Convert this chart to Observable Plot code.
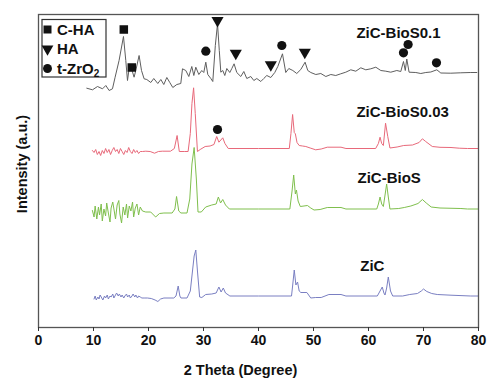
<!DOCTYPE html>
<html><head><meta charset="utf-8">
<script src="https://cdn.jsdelivr.net/npm/d3@7"></script>
<script src="https://cdn.jsdelivr.net/npm/@observablehq/plot@0.6"></script>
<style>body{margin:0;background:#fff}</style>
</head><body><div id="chart"></div>
<script>
// ---- series ----
const seriesNames = ["ZiC-BioS0.1", "ZiC-BioS0.03", "ZiC-BioS", "ZiC"];
const seriesColors = ["#5e5e5e", "#e8697a", "#7fbf4d", "#7a7fc2"];
const seriesOffsets = [255.3, 179, 118.5, 31.5];
const labelLift = [39, 36.3, 30.8, 29.8];
const labelX = [57.8, 57.8, 58, 58.5];

// ZiC-BioS0.1 (2θ, intensity)
const t_s01 = [8.78,9.82,10.73,11.64,12.24,12.84,13.45,13.93,14.65,15.45,15.87,16.18,16.47,16.96,17.38,17.69,18.29,18.73,19.2,19.69,20.42,20.96,21.69,22.24,22.78,23.33,23.87,24.42,25.15,25.87,26.18,26.78,27.33,27.87,28.24,28.6,29.15,29.69,30.05,30.42,30.78,31.33,31.69,32.15,32.55,32.87,33.15,33.51,33.87,34.24,34.78,35.15,35.56,36.05,36.78,37.33,37.87,38.6,39.15,39.69,40.42,40.96,41.51,42.24,42.96,43.51,44.36,44.96,45.51,46.24,46.96,47.69,48.47,48.96,49.51,50.42,51.33,52.24,53.15,54.05,54.96,55.87,56.78,57.69,58.6,59.51,60.42,61.33,62.24,63.15,64.05,65.15,65.87,66.36,66.69,66.96,67.38,68.6,69.51,70.42,71.33,72.42,73.15,74.96,76.78,78.6,79.69];
const i_s01 = [-16,-17.6,-14.3,-16.6,-13.3,-18.3,-16.6,-5,11.7,35.7,11.7,-8.3,3.4,2.7,-5,1.7,16.7,1.7,-6.6,-7.3,-10.3,-6.3,-11.3,-7.3,-12.3,-5.3,-10.3,-15.3,-12.3,-11.3,3.4,1.7,-4.3,5.7,-3.3,5,-2.3,1.7,-0.3,10,-2.3,-6.3,-9.3,26.7,48.4,21.7,0,1.7,-3.3,3.7,-0.3,3.7,8.4,-0.3,-4.3,0.7,-6.3,-4.3,-8.3,-6.3,-9.3,-6.3,-3.3,-5.3,-0.3,5.7,18.4,-0.3,3.7,1.7,-1.3,2.7,10,1.7,-0.3,-2.3,-1.3,-4.3,-2.3,-3.3,-1.6,0,2.4,1,4.4,2.4,3.4,5,1.7,1,0,1.7,0.7,10.7,1.7,13.2,0,-0.3,-1.3,-0.3,0.2,2.4,-0.8,-1,-0.6,-0.3,-0.3];

// ZiC-BioS0.03
const t_s003 = [9.8,10.1,10.4,10.7,11.0,11.3,11.6,11.9,12.2,12.5,12.8,13.1,13.4,13.7,14.0,14.3,14.6,14.9,15.2,15.5,15.8,16.1,16.4,16.7,17.0,17.3,17.6,17.9,18.2,18.5,18.9,19.5,20.3,21.1,21.8,22.5,24.0,24.7,25.2,25.6,26.5,27.2,27.6,27.9,28.2,28.5,28.9,29.4,30.3,31.2,31.9,32.4,32.8,33.5,33.9,34.5,40,45.6,45.9,46.2,46.5,46.7,47.0,47.4,48.0,48.6,49.4,50.4,51.4,52.5,55.0,55.9,61.3,61.8,62.1,62.4,62.7,63.1,63.5,63.9,65.2,66.4,68.0,69.2,69.8,70.4,71.6,73,75,76.5,78,80];
const i_s003 = [-2,-4,-1,-6,-3,-7,-2,-5,0,-4,-1,-6,-2,1,-3,-1,-5,0,-3,-6,-2,-4,1,-3,-5,-1,-4,-2,-5,-3,-3,-2.7,-3,-4.7,-3,-2.7,-2.7,0,13,-3,-3,-3,15,45,60.7,35,-3,-1,2,2.5,4,12,6.3,10.7,5,0,0,0,15,34,16,14.7,6,3,2.5,2,0.5,-1.3,-0.5,1.3,1.3,0,0,5,11.3,5,3,25.3,12,0.5,1.5,3,3.5,6,9.7,7,2,1.2,1,0.3,0,0];

// ZiC-BioS
const t_s = [9.8,10.1,10.3,10.6,10.9,11.1,11.4,11.6,11.9,12.2,12.4,12.7,13.0,13.2,13.5,13.8,14.0,14.3,14.6,14.8,15.1,15.4,15.7,16.0,16.2,16.5,16.8,17.1,17.3,17.6,17.9,18.2,18.5,18.9,19.5,20.4,21.3,22.0,22.8,24.3,24.8,25.1,25.5,25.9,27.0,27.5,27.9,28.3,28.7,29.0,29.6,30.4,31.5,32.3,32.7,33.1,33.5,34.0,34.7,40,45.7,46.1,46.4,46.7,46.9,47.2,47.6,48.9,49.5,50.1,51.2,52.5,55.0,55.9,61.5,61.8,62.1,62.4,62.7,63.3,63.6,63.9,65.5,66.5,67.7,69.0,69.8,70.5,71.4,73,76.8,78,80];
const i_s = [-1.5,-8,3,-10,2,-6,5,-12,0,-7,6,-4,-13,1,7,-3,-10,4,8.5,-5,-14,2,-6,5,-9,3,-2,7,-8,1,5,-6,2,-2,-3,-3,-8,-4.5,-4,-4,0,12.5,-2,-4,-4,10,45,61.5,30,-3,-3,2,4,5,12,6,9.5,4,0,0,0,18,34,15,19,8,2.5,3.5,1,-1,-0.5,1.5,1.5,0,0,5,12,5,2.5,25,12,0,0.5,1.5,3,5.5,9.5,6,2,1,0.5,0,0];

// ZiC
const t_z = [10.1,10.3,10.5,10.8,11.0,11.2,11.5,11.7,12.0,12.2,12.5,12.7,13.0,13.2,13.5,13.7,14.0,14.2,14.5,14.7,15.0,15.2,15.5,15.7,16.0,16.2,16.5,16.7,17.0,17.2,17.5,17.7,18.0,18.2,18.5,18.8,19.2,19.8,20.5,21.2,21.7,22.2,22.8,24.6,25.0,25.4,25.7,25.9,27.0,27.6,27.9,28.3,28.6,28.9,29.3,29.7,30.4,31.5,32.3,32.8,33.2,33.6,34.0,34.8,40,46.0,46.2,46.5,46.8,47.1,47.4,47.7,48.8,49.5,50.4,51.4,52.8,55.0,55.9,61.6,62.0,62.5,62.8,63.0,63.3,63.6,64.0,64.4,66.2,67.5,68.9,69.6,70.0,70.6,71.5,72.5,75,78.6,80];
const i_z = [-3,0,-4,-1,-3,1,-2,-4,0,-2,1,-3,0,-1,2,-2,1,3,0,2,-1,1,-2,0,2,-1,1,-2,0,2,-1,1,-2,0,-1,-2,-2,-2,-2.5,-4,-5.5,-3,-2,-2,0,10,0,-2,-2,5,20,40,46,25,-1,-1.5,1.5,2,3,9,4,8,3,0,0,0,10,26,11,14,5,3.5,3.5,-2,-1.5,-1.5,1.5,1.5,0,0,4,9,3,1,8,19,5,0,0,1.5,2.5,5,7,4.5,2.5,1.5,0.8,0,0];

const seriesT = [t_s01, t_s003, t_s, t_z];
const seriesI = [i_s01, i_s003, i_s, i_z];

// ---- phase markers (2θ, stacked intensity) ----
const chaX = [15.51, 16.96];
const chaY = [298, 260];
const haX = [32.55, 35.87, 42.24, 48.42];
const haY = [307, 274.3, 262.7, 275.3];
const zrX = [30.42, 44.24, 66.36, 67.2, 72.36, 32.55];
const zrY = [276.3, 282, 274.7, 283, 264.7, 198];

// ---- axes ----
const xTicks = [0, 10, 20, 30, 40, 50, 60, 70, 80];
const xLabel = "2 Theta (Degree)";
const yLabel = "Intensity (a.u.)";
const legendNames = ["C-HA", "HA", "t-ZrO"];

const FONT = "'Liberation Sans', Arial, Helvetica, sans-serif";

const lineMarks = seriesNames.map((name, k) => {
  const rows = seriesT[k].map((t, j) => ({t, v: seriesI[k][j] + seriesOffsets[k]}));
  return Plot.line(rows, {x: "t", y: "v", stroke: seriesColors[k], strokeWidth: 1, strokeLinejoin: "round"});
});

const labelRows = seriesNames.map((name, k) => ({name, x: labelX[k], y: seriesOffsets[k] + labelLift[k]}));

const toRows = (xs, ys) => xs.map((x, j) => ({x, y: ys[j]}));

const chart = Plot.plot({
  width: 500, height: 384,
  marginLeft: 38, marginRight: 22, marginTop: 14, marginBottom: 57,
  style: {fontFamily: FONT, fontSize: "14px", fontWeight: "bold", background: "#fff", color: "#111"},
  x: {domain: [0, 80]},
  y: {domain: [0, 313], axis: null},
  marks: [
    ...lineMarks,
    Plot.dot(toRows(chaX, chaY), {x: "x", y: "y", symbol: "square", r: 4.8, fill: "#111", stroke: "none"}),
    Plot.dot(toRows(haX, haY), {x: "x", y: "y", symbol: "triangle", r: 4.5, rotate: 180, fill: "#111", stroke: "none"}),
    Plot.dot(toRows(zrX, zrY), {x: "x", y: "y", symbol: "circle", r: 4.6, fill: "#111", stroke: "none"}),
    Plot.text(labelRows, {x: "x", y: "y", text: "name", textAnchor: "start", fontSize: 15, fontWeight: "bold", fill: "#111"}),
    Plot.frame({stroke: "#555", strokeWidth: 1.3}),
    Plot.axisX({ticks: xTicks, tickSize: 4, tickPadding: 4, label: null, fontSize: 14, fontWeight: "bold", stroke: "#333"}),
    Plot.text([xLabel], {frameAnchor: "bottom", lineAnchor: "middle", textAnchor: "middle", dx: -18, dy: 43, fontSize: 14.5, fontWeight: "bold", fill: "#111"}),
    Plot.text([yLabel], {frameAnchor: "left", lineAnchor: "middle", textAnchor: "middle", rotate: -90, dx: -16, dy: -7, fontSize: 14.5, fontWeight: "bold", fill: "#111"})
  ]
});

// ---- in-plot legend ----
const svg = d3.select(chart);
const g = svg.append("g").attr("font-family", FONT).attr("font-weight", "bold").attr("font-size", 15).attr("text-anchor", "start");
g.append("rect").attr("x", 42).attr("y", 19.5).attr("width", 64).attr("height", 57.5)
  .attr("fill", "#fff").attr("stroke", "#333").attr("stroke-width", 1.2);
const legSymbols = [d3.symbolSquare, d3.symbolTriangle, d3.symbolCircle];
const legSizes = [64, 60, 62];
const legRot = [0, 180, 0];
legendNames.forEach((nm, k) => {
  const cy = 29.5 + k * 19.5;
  g.append("path").attr("d", d3.symbol(legSymbols[k], legSizes[k])())
    .attr("transform", `translate(47.5,${cy}) rotate(${legRot[k]})`).attr("fill", "#111");
  const tx = g.append("text").attr("x", 57).attr("y", cy).attr("dy", "0.36em").attr("fill", "#111")
    .attr("text-anchor", "start").text(nm);
  if (k === 2) tx.append("tspan").attr("font-size", 10).attr("dy", "0.3em").text("2");
});

document.getElementById("chart").appendChild(chart);
</script></body></html>
